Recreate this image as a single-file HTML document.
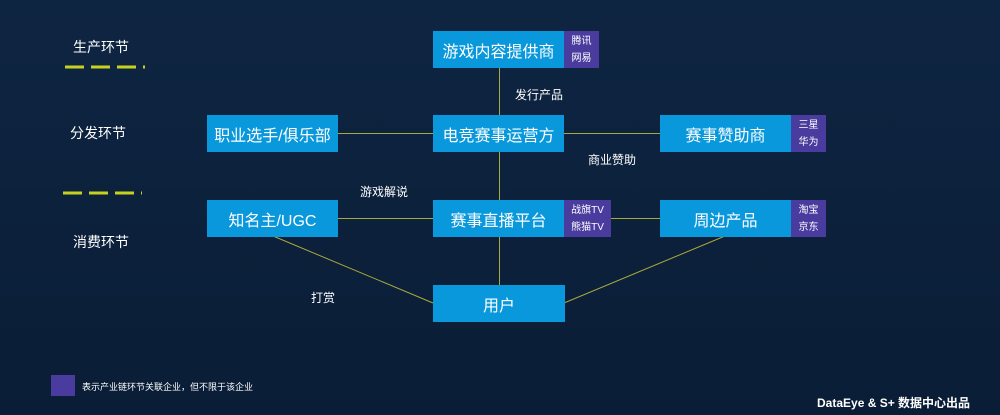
<!DOCTYPE html>
<html><head><meta charset="utf-8"><style>
*{margin:0;padding:0;box-sizing:border-box}
body{width:1000px;height:415px;overflow:hidden;background:linear-gradient(180deg,#0e2542 0%,#0c213c 50%,#0a1d36 100%);font-family:"Liberation Sans","Noto Sans CJK SC",sans-serif;color:#fff;position:relative}
.b{position:absolute;background:#0a98dd;color:#fff;font-size:16px;display:flex;align-items:center;justify-content:center;height:37px}
.p{position:absolute;background:#4a3c9e;color:#fff;font-size:10px;line-height:17px;display:flex;flex-direction:column;align-items:center;justify-content:center;height:37px}
.t{position:absolute;font-size:12px;color:#fff;white-space:nowrap}
.s{position:absolute;font-size:14px;color:#fff;white-space:nowrap}
svg{position:absolute;left:0;top:0}
</style></head><body>
<svg width="1000" height="415">
<g stroke="#a9a93c" stroke-width="1" fill="none">
<line x1="499.5" y1="67" x2="499.5" y2="285"/>
<line x1="338" y1="133.5" x2="660" y2="133.5"/>
<line x1="338" y1="218.5" x2="660" y2="218.5"/>
<line x1="273" y1="236" x2="433" y2="303"/>
<line x1="564" y1="303" x2="725" y2="236"/>
</g>
<g stroke="#c8d21e" stroke-width="3" stroke-dasharray="19,7">
<line x1="65" y1="67" x2="145" y2="67"/>
<line x1="63" y1="193" x2="142" y2="193"/>
</g>
</svg>
<div class="s" style="left:73px;top:37px">生产环节</div>
<div class="s" style="left:70px;top:123px">分发环节</div>
<div class="s" style="left:73px;top:232px">消费环节</div>

<div class="b" style="left:433px;top:31px;width:131px">游戏内容提供商</div>
<div class="p" style="left:564px;top:31px;width:35px"><span>腾讯</span><span>网易</span></div>
<div class="b" style="left:433px;top:115px;width:131px">电竞赛事运营方</div>
<div class="b" style="left:660px;top:115px;width:131px">赛事赞助商</div>
<div class="p" style="left:791px;top:115px;width:35px"><span>三星</span><span>华为</span></div>
<div class="b" style="left:207px;top:115px;width:131px">职业选手/俱乐部</div>
<div class="b" style="left:207px;top:200px;width:131px">知名主/UGC</div>
<div class="b" style="left:433px;top:200px;width:131px">赛事直播平台</div>
<div class="p" style="left:564px;top:200px;width:47px"><span>战旗TV</span><span>熊猫TV</span></div>
<div class="b" style="left:660px;top:200px;width:131px">周边产品</div>
<div class="p" style="left:791px;top:200px;width:35px"><span>淘宝</span><span>京东</span></div>
<div class="b" style="left:433px;top:285px;width:132px">用户</div>

<div class="t" style="left:515px;top:86px">发行产品</div>
<div class="t" style="left:588px;top:151px">商业赞助</div>
<div class="t" style="left:360px;top:183px">游戏解说</div>
<div class="t" style="left:311px;top:289px">打赏</div>

<div style="position:absolute;left:51px;top:375px;width:24px;height:21px;background:#4a3c9e"></div>
<div style="position:absolute;left:82px;top:380px;font-size:9px;white-space:nowrap">表示产业链环节关联企业，但不限于该企业</div>
<div style="position:absolute;left:817px;top:394px;font-size:12px;font-weight:bold;white-space:nowrap">DataEye &amp; S+ 数据中心出品</div>
</body></html>
